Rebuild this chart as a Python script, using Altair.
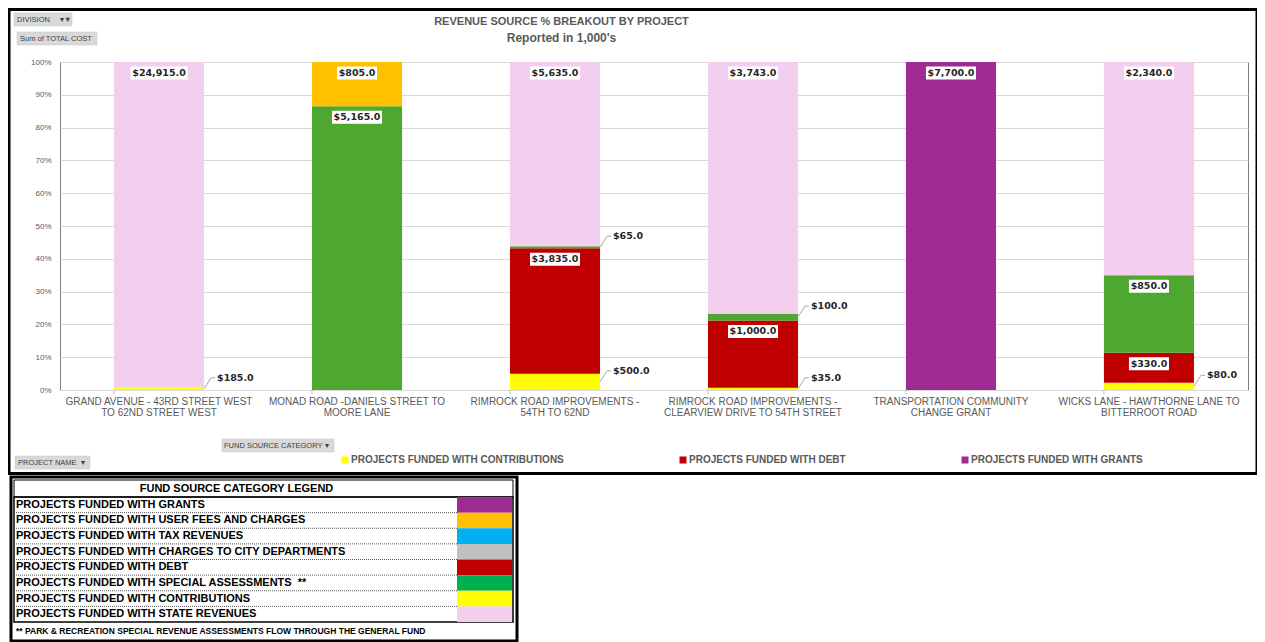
import altair as alt
import pandas as pd

# ---------------- data ----------------
projects = [
    "GRAND AVENUE - 43RD STREET WEST\nTO 62ND STREET WEST",
    "MONAD ROAD -DANIELS STREET TO\nMOORE LANE",
    "RIMROCK ROAD IMPROVEMENTS -\n54TH TO 62ND",
    "RIMROCK ROAD IMPROVEMENTS -\nCLEARVIEW DRIVE TO 54TH STREET",
    "TRANSPORTATION COMMUNITY\nCHANGE GRANT",
    "WICKS LANE - HAWTHORNE LANE TO\nBITTERROOT ROAD",
]
series = [
    "PROJECTS FUNDED WITH CONTRIBUTIONS",
    "PROJECTS FUNDED WITH DEBT",
    "PROJECTS FUNDED WITH SPECIAL ASSESSMENTS",
    "PROJECTS FUNDED WITH USER FEES AND CHARGES",
    "PROJECTS FUNDED WITH GRANTS",
    "PROJECTS FUNDED WITH STATE REVENUES",
]
contributions = [185, 0, 500, 35, 0, 80]
debt = [0, 0, 3835, 1000, 0, 330]
special_assessments = [0, 5165, 65, 100, 0, 850]
user_fees = [0, 805, 0, 0, 0, 0]
grants = [0, 0, 0, 0, 7700, 0]
state_revenues = [24915, 0, 5635, 3743, 0, 2340]

legend_values = [
    "PROJECTS FUNDED WITH CONTRIBUTIONS",
    "PROJECTS FUNDED WITH DEBT",
    "PROJECTS FUNDED WITH GRANTS",
]

table_categories = [
    "PROJECTS FUNDED WITH GRANTS",
    "PROJECTS FUNDED WITH USER FEES AND CHARGES",
    "PROJECTS FUNDED WITH TAX REVENUES",
    "PROJECTS FUNDED WITH CHARGES TO CITY DEPARTMENTS",
    "PROJECTS FUNDED WITH DEBT",
    "PROJECTS FUNDED WITH SPECIAL ASSESSMENTS\u00a0\u00a0**",
    "PROJECTS FUNDED WITH CONTRIBUTIONS",
    "PROJECTS FUNDED WITH STATE REVENUES",
]
table_header = "FUND SOURCE CATEGORY LEGEND"
table_footer = "** PARK & RECREATION SPECIAL REVENUE ASSESSMENTS FLOW THROUGH THE GENERAL FUND"

title_text = "REVENUE SOURCE % BREAKOUT BY PROJECT"
subtitle_text = "Reported in 1,000's"

# ---------------- styles ----------------
series_colors = ["#FFFF00", "#C00000", "#4EA72E", "#FFC000", "#A02B93", "#F2CEEF"]
table_colors = ["#9E2A93", "#FFC000", "#00B0F0", "#BFBFBF", "#C00000", "#00B050", "#FFFF00", "#F2CEEF"]
GRAY = "#595959"
FONT = "Liberation Sans"
LFONT = "DejaVu Sans"

# ---------------- tables for the library ----------------
rows = []
for si, (s, vals) in enumerate(zip(series, [contributions, debt, special_assessments,
                                             user_fees, grants, state_revenues])):
    for p, v in zip(projects, vals):
        if v > 0:
            rows.append({"project": p, "series": s, "value": v, "order": si})
df = pd.DataFrame(rows)
proj_df = pd.DataFrame({"project": projects})
table_df = pd.DataFrame({"cat": table_categories})
one = pd.DataFrame({"k": [0]})

xscale = alt.Scale(domain=projects, paddingInner=0.545, paddingOuter=0.2727)
yscale = alt.Scale(domain=[0, 1])

x_axis = alt.Axis(labelAngle=0, labelExpr="split(datum.label, '\\n')",
                  labelFontSize=10, labelFont=FONT, labelColor=GRAY,
                  labelLimit=300, labelPadding=6, labelBaseline="top",
                  labelLineHeight=11, ticks=False, domain=True,
                  domainColor="#D9D9D9", labelOverlap=False, grid=False, title=None)
y_axis = alt.Axis(format=".0%", tickCount=10, labelFontSize=8, labelFont=FONT,
                  labelColor=GRAY, ticks=False, domain=False,
                  gridColor="#D9D9D9", labelPadding=9, title=None)


def X(**kw):
    return alt.X("project:N", sort=projects, scale=xscale, axis=x_axis, title=None, **kw)


def Y(field):
    return alt.Y(field, scale=yscale, axis=y_axis, title=None)


base = (
    alt.Chart(df)
    .transform_stack(stack="value", groupby=["project"],
                     sort=[alt.SortField(field="order", order="ascending")],
                     as_=["y0", "y1"], offset="normalize")
    .transform_calculate(share="datum.y1 - datum.y0",
                         mid="(datum.y0 + datum.y1) / 2",
                         label="'$' + format(datum.value, ',.1f')")
)

bars = base.mark_bar().encode(
    x=X(),
    y=Y("y0:Q"),
    y2="y1:Q",
    color=alt.Color("series:N", scale=alt.Scale(domain=series, range=series_colors),
                    legend=alt.Legend(title=None, orient="none", legendX=280, legendY=393,
                                      direction="horizontal", values=legend_values,
                                      symbolType="square", symbolSize=49,
                                      labelFontSize=10, labelFont=FONT,
                                      labelFontWeight="bold", labelColor=GRAY,
                                      columnPadding=114, labelOffset=1, labelLimit=400,
                                      symbolStrokeWidth=0, padding=0)),
)

inside = base.transform_filter("datum.share >= 0.06")
box_layers = []
for n, w in [(6, 40), (7, 46), (8, 50), (9, 57)]:
    box_layers.append(
        inside.transform_filter(f"length(datum.label) == {n}")
        .mark_bar(width=w, color="white", yOffset=4.5, y2Offset=17.5)
        .encode(x=X(), y=Y("y1:Q"), y2="y1:Q")
    )
inside_text = inside.mark_text(font=LFONT, fontWeight="bold", fontSize=9.5,
                               color="#262626", dy=11, baseline="middle").encode(
    x=X(), y=Y("y1:Q"), text="label:N")

outside = base.transform_filter("datum.share < 0.06")
lead1 = outside.mark_rule(color="#A6A6A6", strokeWidth=1, xOffset=45, x2Offset=52,
                          y2Offset=-11).encode(
    x=X(), x2=alt.X2("project:N"),
    y=Y("mid:Q"), y2=alt.Y2("mid:Q"))
lead2 = outside.mark_rule(color="#A6A6A6", strokeWidth=1, xOffset=52, x2Offset=56,
                          yOffset=-11, y2Offset=-11).encode(
    x=X(), x2=alt.X2("project:N"),
    y=Y("mid:Q"), y2=alt.Y2("mid:Q"))
outside_text = outside.mark_text(font=LFONT, fontWeight="bold", fontSize=9.5,
                                 color="#262626", dx=58, dy=-11, align="left",
                                 baseline="middle").encode(
    x=X(), y=Y("mid:Q"), text="label:N")

xticks = alt.Chart(proj_df).mark_rule(color="#BFBFBF").encode(
    x=X(bandPosition=0),
    y=alt.value(328), y2=alt.value(332))

plot_layer = alt.layer(bars, *box_layers, inside_text, lead1, lead2, outside_text, xticks)

# ---------------- legend table ----------------
ty = alt.Scale(domain=table_categories, range=[435, 560], paddingInner=0, paddingOuter=0)
tbase = alt.Chart(table_df)
swatches = tbase.mark_rect().encode(
    y=alt.Y("cat:N", scale=ty, axis=None, sort=table_categories),
    x=alt.value(397), x2=alt.value(452),
    color=alt.Color("cat:N", scale=alt.Scale(domain=table_categories, range=table_colors),
                    legend=None))
ttext = tbase.mark_text(align="left", baseline="middle", font=FONT, fontWeight="bold",
                        fontSize=11, color="black").encode(
    y=alt.Y("cat:N", scale=ty, axis=None, sort=table_categories),
    x=alt.value(-44), text="cat:N")
tlines = tbase.transform_filter(alt.datum.cat != table_categories[0]).mark_rule(
    color="#595959", strokeDash=[1, 1], strokeWidth=1).encode(
    y=alt.Y("cat:N", scale=ty, axis=None, sort=table_categories, bandPosition=0),
    x=alt.value(-46), x2=alt.value(397))
table_layer = alt.layer(swatches, tlines, ttext)


# ---------------- decorations ----------------
def rect(x, x2, y, y2, **kw):
    return alt.Chart(one).mark_rect(**kw).encode(
        x=alt.value(x), x2=alt.value(x2), y=alt.value(y), y2=alt.value(y2))


def txt(t, x, y, **kw):
    return alt.Chart(one).mark_text(text=t, **kw).encode(x=alt.value(x), y=alt.value(y))


btn = dict(fill="#D9D9D9", stroke="#C4C4C4", strokeWidth=0.5)
btxt = dict(font=FONT, fontSize=7.5, color="#404040", align="left", baseline="middle")
decos = [
    rect(-51, 1197, -52.5, 411.5, fill="transparent", stroke="black", strokeWidth=3),
    txt(title_text, 501.5, -40.5, font=FONT, fontSize=11, fontWeight="bold", color=GRAY),
    txt(subtitle_text, 501.5, -24, font=FONT, fontSize=12, fontWeight="bold", color=GRAY),
    rect(-46, 12, -49, -36, **btn),
    txt("DIVISION", -43, -42.5, **btxt),
    txt("\u25BE\u25BC", 0, -42.5, **btxt),
    rect(-43, 37, -30, -17, **btn),
    txt("Sum of TOTAL COST", -40, -23.5, **btxt),
    rect(162, 274, 377, 390, **btn),
    txt("FUND SOURCE CATEGORY", 164, 383.5, **btxt),
    txt("\u25BE", 265, 383.5, **btxt),
    rect(-45, 30, 394, 407, **btn),
    txt("PROJECT NAME", -42, 400.5, **btxt),
    txt("\u25BE", 21, 400.5, **btxt),
    # legend table frame
    rect(-49, 457, 415, 579, fill="white", stroke="black", strokeWidth=3),
    rect(-46, 453, 418, 435, fill="transparent", stroke="black", strokeWidth=1),
    rect(-46, 453, 435, 560, fill="transparent", stroke="black", strokeWidth=1.5),
    txt(table_header, 176.5, 426.5, font=FONT, fontSize=11, fontWeight="bold", color="black"),
    txt(table_footer, -44, 569, font=FONT, fontSize=8.5, fontWeight="bold", color="black",
        align="left", baseline="middle"),
]

chart = (
    alt.layer(plot_layer, *decos, table_layer)
    .resolve_scale(y="independent", color="independent")
    .properties(width=1188, height=328,
                autosize=alt.AutoSizeParams(type="none"),
                padding={"left": 52, "top": 54, "right": 9, "bottom": 252},
                background="white")
    .configure_view(stroke="#808080", strokeWidth=1)
)

chart.save("out.html", embed_options={"renderer": "svg", "actions": False})
